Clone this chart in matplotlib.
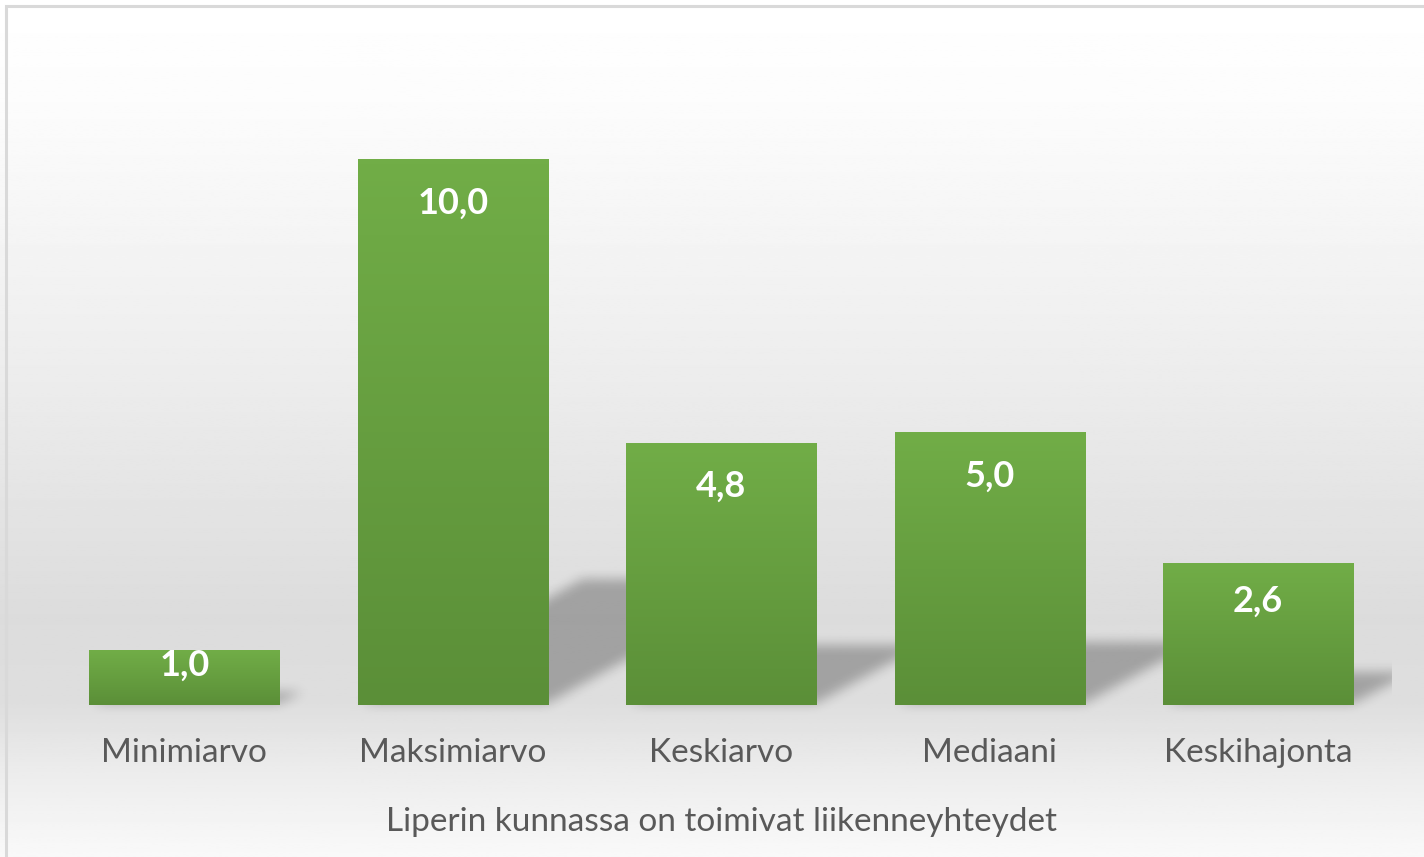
import numpy as np
import matplotlib.pyplot as plt
from matplotlib.patches import Rectangle
from matplotlib.path import Path
from matplotlib.colors import LinearSegmentedColormap

categories = ["Minimiarvo", "Maksimiarvo", "Keskiarvo", "Mediaani", "Keskihajonta"]
values = [1.0, 10.0, 4.8, 5.0, 2.6]
value_labels = ["1,0", "10,0", "4,8", "5,0", "2,6"]
axis_title = "Liperin kunnassa on toimivat liikenneyhteydet"

W, H = 1424, 857
plt.rcParams['font.family'] = ['Lato', 'DejaVu Sans']

fig = plt.figure(figsize=(W / 100, H / 100), dpi=100)

# background gradient over the whole figure
bg = fig.add_axes([0, 0, 1, 1], zorder=-10)
stops = [(0.0, 255), (0.12, 252), (0.45, 236), (0.72, 220), (0.82, 222), (0.90, 236), (1.0, 249)]
ys = np.linspace(0, 1, 400)
grey = np.interp(ys, [s[0] for s in stops], [s[1] for s in stops]) / 255.0
grad = np.repeat(grey[:, None], 2, axis=1)
bg.imshow(grad, cmap='gray', vmin=0, vmax=1, aspect='auto', extent=[0, W, 0, H], zorder=0)
bg.set_xlim(0, W)
bg.set_ylim(0, H)
bg.axis('off')

# frame (only left and top edges visible in the crop)
fig.add_artist(Rectangle((6 / W, -1), 2, 1 - 6 / H + 1, transform=fig.transFigure,
                         fill=False, edgecolor='#d9d9d9', linewidth=2.2))

ax = fig.add_axes([50 / W, (H - 705) / H, 1342.5 / W, 655 / H])
ax.set_facecolor('none')
x = np.arange(len(categories))
width = 0.708
ax.set_xlim(-0.5, len(categories) - 0.5)
ax.set_ylim(0, 12)

bars = ax.bar(x, values, width=width, color='#66a042', zorder=2)


def box_blur(a, r, axis):
    pad = [(0, 0), (0, 0)]
    pad[axis] = (r + 1, r)
    c = np.cumsum(np.pad(a, pad, mode='edge'), axis=axis)
    n = a.shape[axis]
    hi = np.take(c, np.arange(2 * r + 1, 2 * r + 1 + n), axis=axis)
    lo = np.take(c, np.arange(0, n), axis=axis)
    return (hi - lo) / (2 * r + 1)


# soft perspective shadows behind the bars, built in pixel space
mask = np.zeros((H, W))
gx, gy = np.meshgrid(np.arange(W) + 0.5, np.arange(H) + 0.5)
pix = np.column_stack([gx.ravel(), gy.ravel()])
for b in bars:
    x0, x1 = b.get_x(), b.get_x() + b.get_width()
    p0 = ax.transData.transform((x0, 0))
    p1 = ax.transData.transform((x1, 0))
    hpx = ax.transData.transform((x0, b.get_height()))[1] - p0[1]
    dx, dy = 0.41 * hpx, 0.23 * hpx
    poly = Path([(p0[0] + 4, p0[1] + 2), (p1[0], p1[1] + 2), (p1[0] + dx, p1[1] + dy),
                 (p0[0] + dx, p0[1] + dy)])
    mask = np.maximum(mask, poly.contains_points(pix).reshape(H, W).astype(float))
for _ in range(3):
    mask = box_blur(mask, 5, 0)
    mask = box_blur(mask, 5, 1)
# shadows are clipped by the plot area on the right
right_px = ax.transData.transform((len(categories) - 0.5, 0))[0]
mask[:, int(right_px):] = 0
shadow = np.zeros((H, W, 4))
shadow[..., 3] = 0.27 * mask
bg.imshow(shadow, origin='lower', extent=[0, W, 0, H], aspect='auto', zorder=1)

green = LinearSegmentedColormap.from_list('g', ['#5b8f38', '#71ad47'])
for b in bars:
    x0, y0 = b.get_x(), b.get_y()
    im = ax.imshow(np.linspace(0, 1, 100)[:, None], cmap=green, aspect='auto',
                   origin='lower', extent=[x0, x0 + b.get_width(), y0, y0 + b.get_height()],
                   zorder=3)
    im.set_clip_path(b)

for xi, v, lab in zip(x, values, value_labels):
    ax.text(xi, v - min(0.8, 0.27 * v), lab, ha='center', va='center',
            color='white', fontsize=26, fontweight='bold', zorder=5)

ax.set_xlim(-0.5, len(categories) - 0.5)
ax.set_ylim(0, 12)
ax.set_xticks(x)
ax.set_xticklabels(categories, fontsize=24, color='#595959')
ax.tick_params(axis='x', length=0, pad=24)
ax.set_yticks([])
for s in ax.spines.values():
    s.set_visible(False)
ax.set_xlabel(axis_title, fontsize=24, color='#595959', labelpad=28)

fig.savefig('out.png', dpi=100)
